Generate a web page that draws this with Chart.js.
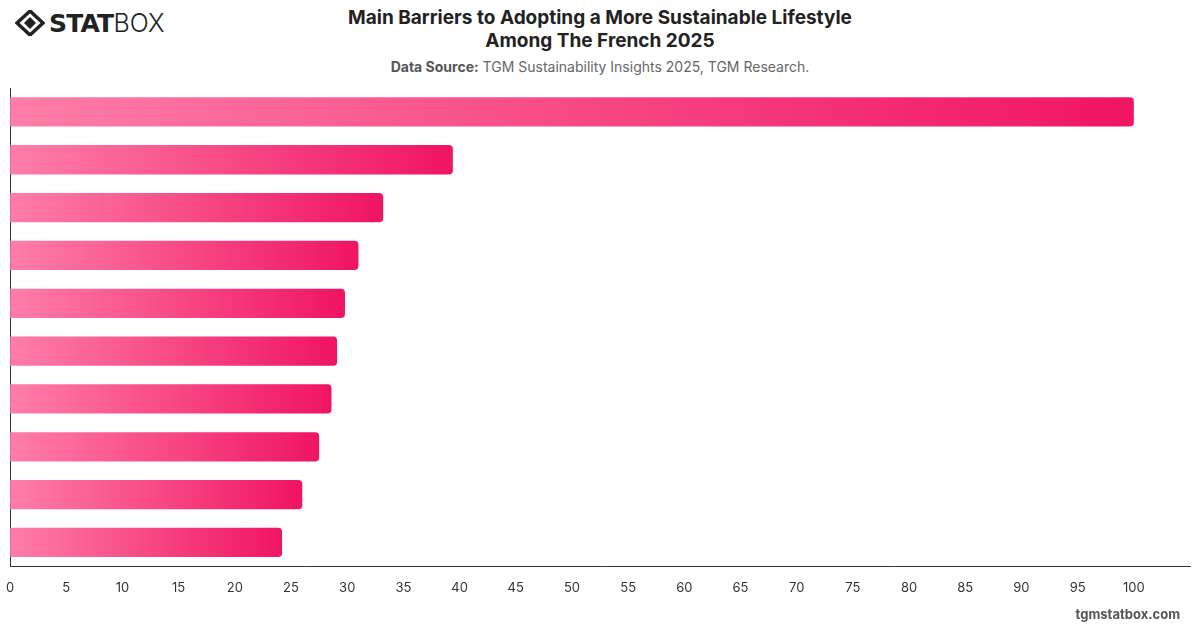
<!DOCTYPE html>
<html>
<head>
<meta charset="utf-8">
<script src="https://cdn.jsdelivr.net/npm/chart.js@4"></script>
<style>
  body { margin: 0; background: #fff; font-family: Inter, "Noto Sans", sans-serif; }
  #wrap { position: relative; width: 1200px; height: 628px; overflow: hidden; }
  #logo { position: absolute; left: 15px; top: 8px; display: flex; align-items: center; }
  #logo .t1 { font-family: "DejaVu Sans", Inter, sans-serif; font-weight: 900; font-size: 25px; letter-spacing: -0.8px; color: #222; margin-left: 4px; }
  #logo .t2 { font-family: Inter, sans-serif; font-weight: 300; font-size: 25px; color: #222; }
  #titulo { position: absolute; left: 0; width: 1200px; top: 6px; text-align: center; font-size: 19px; font-weight: 700; color: #222; line-height: 23px; }
  #fuente { position: absolute; left: 0; width: 1200px; top: 58px; text-align: center; font-size: 14px; color: #666; }
  #fuente b { color: #555; }
  #pie { position: absolute; right: 20px; top: 606px; font-size: 13px; font-weight: 700; color: #555; }
  #caja { position: absolute; left: -8px; top: 80px; width: 1208px; height: 530px; }
</style>
</head>
<body>
<div id="wrap">
  <div id="logo">
    <svg width="30" height="26" viewBox="0 0 30 26">
      <path d="M15 1 L28 13 L15 25 L2 13 Z" fill="none" stroke="#222" stroke-width="3.5"/>
      <path d="M15 7 L21 13 L15 19 L9 13 Z" fill="#222"/>
    </svg>
    <span class="t1">STAT</span><span class="t2">BOX</span>
  </div>
  <div id="titulo">Main Barriers to Adopting a More Sustainable Lifestyle<br>Among The French 2025</div>
  <div id="fuente"><b>Data Source:</b> TGM Sustainability Insights 2025, TGM Research.</div>
  <div id="caja"><canvas id="grafica"></canvas></div>
  <div id="pie">tgmstatbox.com</div>
</div>
<script>
const $grafica = document.querySelector("#grafica");
// no category names are shown in the picture, only the rank
const etiquetas = ["1", "2", "3", "4", "5", "6", "7", "8", "9", "10"];
const valores = [100, 39.4, 33.2, 31.0, 29.8, 29.1, 28.6, 27.5, 26.0, 24.2];
const ticksX = [0, 5, 10, 15, 20, 25, 30, 35, 40, 45, 50, 55, 60, 65, 70, 75, 80, 85, 90, 95, 100];

function degradado(ctx) {
  const chart = ctx.chart;
  if (!chart.chartArea || ctx.dataIndex === undefined) return "#f7457f";
  const x = chart.scales.x;
  const x0 = x.getPixelForValue(0);
  const x1 = x.getPixelForValue(valores[ctx.dataIndex]);
  const g = chart.ctx.createLinearGradient(x0, 0, x1, 0);
  g.addColorStop(0, "#ff7ea8");
  g.addColorStop(1, "#f01462");
  return g;
}

new Chart($grafica, {
  type: "bar",
  data: {
    labels: etiquetas,
    datasets: [{
      data: valores,
      backgroundColor: degradado,
      borderWidth: 0,
      borderRadius: 4,
      borderSkipped: "start",
      barPercentage: 0.72,
      categoryPercentage: 0.85,
    }],
  },
  options: {
    indexAxis: "y",
    responsive: true,
    maintainAspectRatio: false,
    animation: false,
    layout: { padding: { left: 2, right: 10, top: 8, bottom: 0 } },
    scales: {
      x: {
        min: 0,
        max: 105,
        afterBuildTicks: (axis) => { axis.ticks = ticksX.map((v) => ({ value: v })); },
        grid: { display: false, drawTicks: false },
        border: { display: true, color: "#333", width: 1 },
        ticks: { color: "#333", padding: 14, font: { family: "Inter", size: 13 } },
      },
      y: {
        grid: { display: false, drawTicks: false },
        border: { display: true, color: "#333", width: 1 },
        ticks: { display: false },
      },
    },
    plugins: {
      legend: { display: false },
      tooltip: { enabled: false },
    },
  },
});
</script>
</body>
</html>
